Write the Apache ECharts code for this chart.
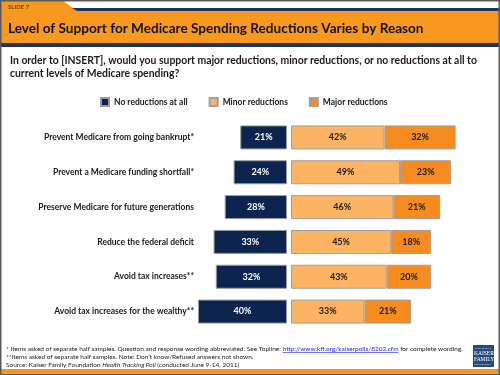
<!DOCTYPE html>
<html>
<head>
<meta charset="utf-8">
<script src="https://cdn.jsdelivr.net/npm/echarts@6/dist/echarts.min.js"></script>
<style>
  html, body { margin: 0; padding: 0; background: #fff; }
  #chart { width: 500px; height: 375px; }
</style>
</head>
<body>
<div id="chart"></div>
<script>
// reasons asked about (top to bottom)
var categories = [
  'Prevent Medicare from going bankrupt*',
  'Prevent a Medicare funding shortfall*',
  'Preserve Medicare for future generations',
  'Reduce the federal deficit',
  'Avoid tax increases**',
  'Avoid tax increases for the wealthy**'
]
var seriesNames = ['No reductions at all', 'Minor reductions', 'Major reductions']
var noReductions = [21, 24, 28, 33, 32, 40]
var minorReductions = [42, 49, 46, 45, 43, 33]
var majorReductions = [32, 23, 21, 18, 20, 21]

var NAVY = '#0c2550'
var LIGHT = '#fcb462'
var ORANGE = '#f68c1f'
var FONT = 'Lato'
var FOOT_FONT = '6.5px ' + FONT

var footPrefix = '* Items asked of separate half samples. Question and response wording abbreviated. See Topline: '
var footLink = 'http://www.kff.org/kaiserpolls/8202.cfm'

// measure where the link sits so it can be underlined
var ctx = document.createElement('canvas').getContext('2d')
ctx.font = FOOT_FONT
var linkX = 6 + ctx.measureText(footPrefix).width
var linkW = ctx.measureText(footLink).width

var chart = echarts.init(document.getElementById('chart'))

var labelStyle = function (color) {
  return {
    show: true,
    position: 'inside',
    formatter: '{c}%',
    color: color,
    fontFamily: FONT,
    fontWeight: 'bold',
    fontSize: 9
  }
}

chart.setOption({
  animation: false,
  textStyle: { fontFamily: FONT },
  legend: {
    left: 100,
    top: 97,
    padding: 0,
    itemWidth: 8,
    itemHeight: 8,
    itemGap: 21,
    icon: 'rect',
    data: seriesNames,
    textStyle: { fontSize: 8.5, fontWeight: 'bold', color: '#1a1a1a', fontFamily: FONT }
  },
  grid: [
    { left: 198, width: 89, top: 120, height: 209, outerBoundsMode: 'none' },
    { left: 291, width: 178, top: 120, height: 209, outerBoundsMode: 'none' }
  ],
  xAxis: [
    { gridIndex: 0, type: 'value', min: 0, max: 40, inverse: true, show: false },
    { gridIndex: 1, type: 'value', min: 0, max: 80, show: false }
  ],
  yAxis: [
    {
      gridIndex: 0,
      type: 'category',
      data: categories,
      inverse: true,
      axisLine: { show: false, onZero: false },
      axisTick: { show: false },
      axisLabel: {
        margin: 4,
        fontSize: 8.5,
        fontWeight: 'bold',
        color: '#1a1a1a',
        fontFamily: FONT
      }
    },
    { gridIndex: 1, type: 'category', data: categories, inverse: true, show: false }
  ],
  series: [
    {
      name: seriesNames[0],
      type: 'bar',
      xAxisIndex: 0,
      yAxisIndex: 0,
      barWidth: 24,
      data: noReductions,
      itemStyle: { color: NAVY, borderColor: '#9a9a9a', borderWidth: 1 },
      label: labelStyle('#ffffff')
    },
    {
      name: seriesNames[1],
      type: 'bar',
      stack: 'support',
      xAxisIndex: 1,
      yAxisIndex: 1,
      barWidth: 24,
      data: minorReductions,
      itemStyle: { color: LIGHT, borderColor: '#a0a0a0', borderWidth: 1 },
      label: labelStyle('#1a1a1a')
    },
    {
      name: seriesNames[2],
      type: 'bar',
      stack: 'support',
      xAxisIndex: 1,
      yAxisIndex: 1,
      barWidth: 24,
      data: majorReductions,
      itemStyle: { color: ORANGE, borderColor: '#a0a0a0', borderWidth: 1 },
      label: labelStyle('#1a1a1a')
    }
  ],
  graphic: [
    // header band
    { type: 'rect', shape: { x: 0, y: 11, width: 500, height: 32 }, style: { fill: '#f7981f' } },
    { type: 'polygon', shape: { points: [[0, 0], [62, 0], [77, 11], [0, 11]] }, style: { fill: '#f7981f' } },
    { type: 'polygon', shape: { points: [[72, 8], [500, 8], [500, 11], [77, 11]] }, style: { fill: '#1c3660' } },
    { type: 'rect', shape: { x: 0, y: 43, width: 500, height: 4 }, style: { fill: '#1c3660' } },
    { type: 'text', left: 8, top: 4, style: { text: 'SLIDE 7', fill: '#6a4a20', font: 'bold 6px ' + FONT } },
    {
      type: 'text', left: 8, top: 22,
      style: { text: 'Level of Support for Medicare Spending Reductions Varies by Reason', fill: '#111', font: 'bold 13.6px ' + FONT }
    },
    {
      type: 'text', left: 10, top: 54,
      style: {
        text: 'In order to [INSERT], would you support major reductions, minor reductions, or no reductions at all to\ncurrent levels of Medicare spending?',
        fill: '#1a1a1a', font: 'bold 10.4px ' + FONT, lineHeight: 13
      }
    },
    // footnotes
    {
      type: 'text', left: 6, top: 345,
      style: {
        text: footPrefix + '{link|' + footLink + '} for complete wording.\n**Items asked of separate half samples. Note: Don\u2019t know/Refused answers not shown.\nSource: Kaiser Family Foundation {it|Health Tracking Poll} (conducted June 9-14, 2011)',
        fill: '#222', font: FOOT_FONT, lineHeight: 8,
        rich: {
          link: { fill: '#1a1aee', font: FOOT_FONT },
          it: { fill: '#222', font: 'italic ' + FOOT_FONT }
        }
      }
    },
    { type: 'line', shape: { x1: linkX, y1: 352.5, x2: linkX + linkW, y2: 352.5 }, style: { stroke: '#1a1aee', lineWidth: 0.6 } },
    // logo
    { type: 'rect', shape: { x: 473, y: 345, width: 21, height: 22 }, style: { fill: '#274a78' } },
    { type: 'text', left: 475, top: 347, style: { text: 'THE HENRY J.', fill: '#dfe6f0', font: '2.5px ' + FONT } },
    { type: 'text', left: 474, top: 351, style: { text: 'KAISER', fill: '#fff', font: '5.5px serif' } },
    { type: 'text', left: 474, top: 357, style: { text: 'FAMILY', fill: '#fff', font: '5.5px serif' } },
    { type: 'text', left: 474, top: 363, style: { text: 'FOUNDATION', fill: '#dfe6f0', font: '2.5px ' + FONT } },
    // bottom band and frame
    { type: 'rect', shape: { x: 0, y: 369, width: 500, height: 4 }, style: { fill: '#f7941d' } },
    { type: 'rect', shape: { x: 0.5, y: 0.5, width: 499, height: 374 }, style: { fill: 'none', stroke: '#5a5a5a', lineWidth: 2 } }
  ]
})
</script>
</body>
</html>
